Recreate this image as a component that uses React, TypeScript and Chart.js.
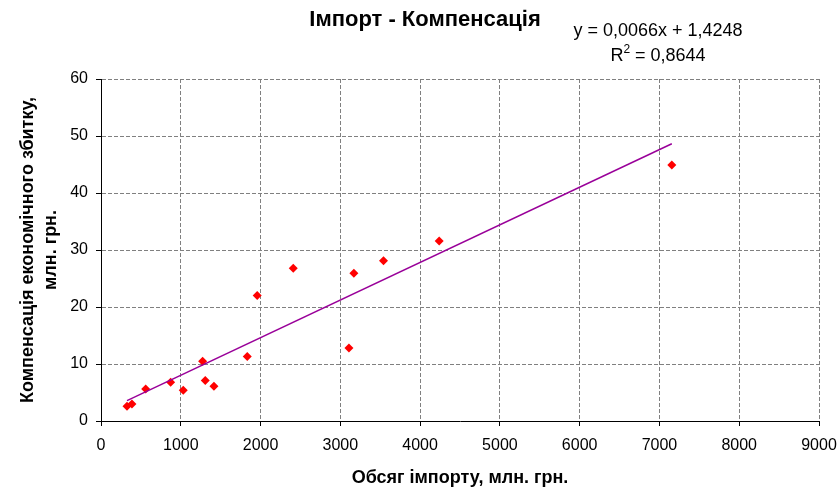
import React, { useEffect, useRef } from "react";
import { Chart, registerables } from "chart.js";

Chart.register(...registerables);

const importVolume = [326, 388, 560, 873, 1031, 1274, 1307, 1416, 1833, 1958, 2410, 3108, 3170, 3541, 4239, 7155];
const compensation = [2.6, 3.0, 5.6, 6.8, 5.4, 10.5, 7.1, 6.1, 11.3, 22.0, 26.8, 12.8, 25.9, 28.1, 31.6, 44.9];
const trendSlope = 0.0066;
const trendIntercept = 1.4248;
const rSquared = "0,8644";
const chartTitle = "Імпорт - Компенсація";
const xTitle = "Обсяг імпорту, млн. грн.";
const yTitle = ["Компенсація економічного збитку,", "млн. грн."];

const FONT = "Arial, 'Liberation Sans', sans-serif";

export default function App() {
  const ref = useRef<HTMLCanvasElement>(null);
  useEffect(() => {
    const points = importVolume.map((x, i) => ({ x, y: compensation[i] }));
    const xMin = Math.min(...importVolume);
    const xMax = Math.max(...importVolume);
    const trend = [xMin, xMax].map((x) => ({ x, y: trendSlope * x + trendIntercept }));

    const textPlugin = {
      id: "texts",
      afterDraw(chart: any) {
        const ctx = chart.ctx;
        ctx.save();
        ctx.fillStyle = "#000";
        ctx.textBaseline = "middle";
        ctx.textAlign = "center";
        ctx.font = `bold 22px ${FONT}`;
        ctx.fillText(chartTitle, 425, 20);
        ctx.font = `18px ${FONT}`;
        const eq = `y = ${String(trendSlope).replace(".", ",")}x + ${String(trendIntercept).replace(".", ",")}`;
        ctx.fillText(eq, 658, 31);
        const p1 = "R";
        const p3 = ` = ${rSquared}`;
        ctx.font = `18px ${FONT}`;
        const w1 = ctx.measureText(p1).width;
        const w3 = ctx.measureText(p3).width;
        ctx.font = `12px ${FONT}`;
        const w2 = ctx.measureText("2").width;
        const total = w1 + w2 + w3;
        let x = 658 - total / 2;
        ctx.textAlign = "left";
        ctx.font = `18px ${FONT}`;
        ctx.fillText(p1, x, 56);
        x += w1;
        ctx.font = `12px ${FONT}`;
        ctx.fillText("2", x, 50);
        x += w2;
        ctx.font = `18px ${FONT}`;
        ctx.fillText(p3, x, 56);
        ctx.restore();
      },
    };

    const chart = new Chart(ref.current!, {
      type: "scatter",
      data: {
        datasets: [
          {
            label: "trend",
            data: trend,
            showLine: true,
            borderColor: "#990099",
            borderWidth: 1.5,
            pointRadius: 0,
            fill: false,
          },
          {
            label: "data",
            data: points,
            pointStyle: "rectRot",
            pointRadius: 4.5,
            backgroundColor: "#ff0000",
            borderColor: "#ff0000",
            borderWidth: 0,
          },
        ],
      },
      options: {
        animation: false,
        responsive: false,
        layout: { padding: { top: 79, right: 21, bottom: 0, left: 0 } },
        plugins: {
          legend: { display: false },
          tooltip: { enabled: false },
          title: { display: false },
        },
        scales: {
          x: {
            type: "linear",
            min: 0,
            max: 9000,
            ticks: {
              stepSize: 1000,
              color: "#000",
              font: { family: FONT, size: 16 },
              padding: 10,
              maxRotation: 0,
              callback: (v: any) => String(v),
            },
            grid: { color: "#808080", tickColor: "#000", tickLength: 5 } as any,
            border: { color: "#000", width: 1, dash: [4, 2] } as any,
            title: { display: true, text: xTitle, color: "#000", font: { family: FONT, size: 18, weight: "bold" }, padding: { top: 0, bottom: 0 } },
            afterFit: (s: any) => { s.height = 68; s.paddingLeft = 0; s.paddingRight = 0; },
          },
          y: {
            type: "linear",
            min: 0,
            max: 60,
            ticks: { stepSize: 10, color: "#000", font: { family: FONT, size: 16 }, padding: 8 },
            grid: { color: "#808080", tickColor: "#000", tickLength: 5 } as any,
            border: { color: "#000", width: 1, dash: [4, 2] } as any,
            title: { display: true, text: yTitle, color: "#000", font: { family: FONT, size: 18, weight: "bold", lineHeight: 1.3 }, padding: { top: 16, bottom: 0 } },
            afterFit: (s: any) => { s.width = 101; s.paddingTop = 0; s.paddingBottom = 0; },
          },
        },
      },
      plugins: [textPlugin],
    } as any);
    return () => chart.destroy();
  }, []);

  return (
    <div style={{ position: "absolute", left: 0, top: 0, width: 840, height: 489, background: "#fff" }}>
      <canvas ref={ref} width={840} height={489} style={{ display: "block" }} />
    </div>
  );
}
